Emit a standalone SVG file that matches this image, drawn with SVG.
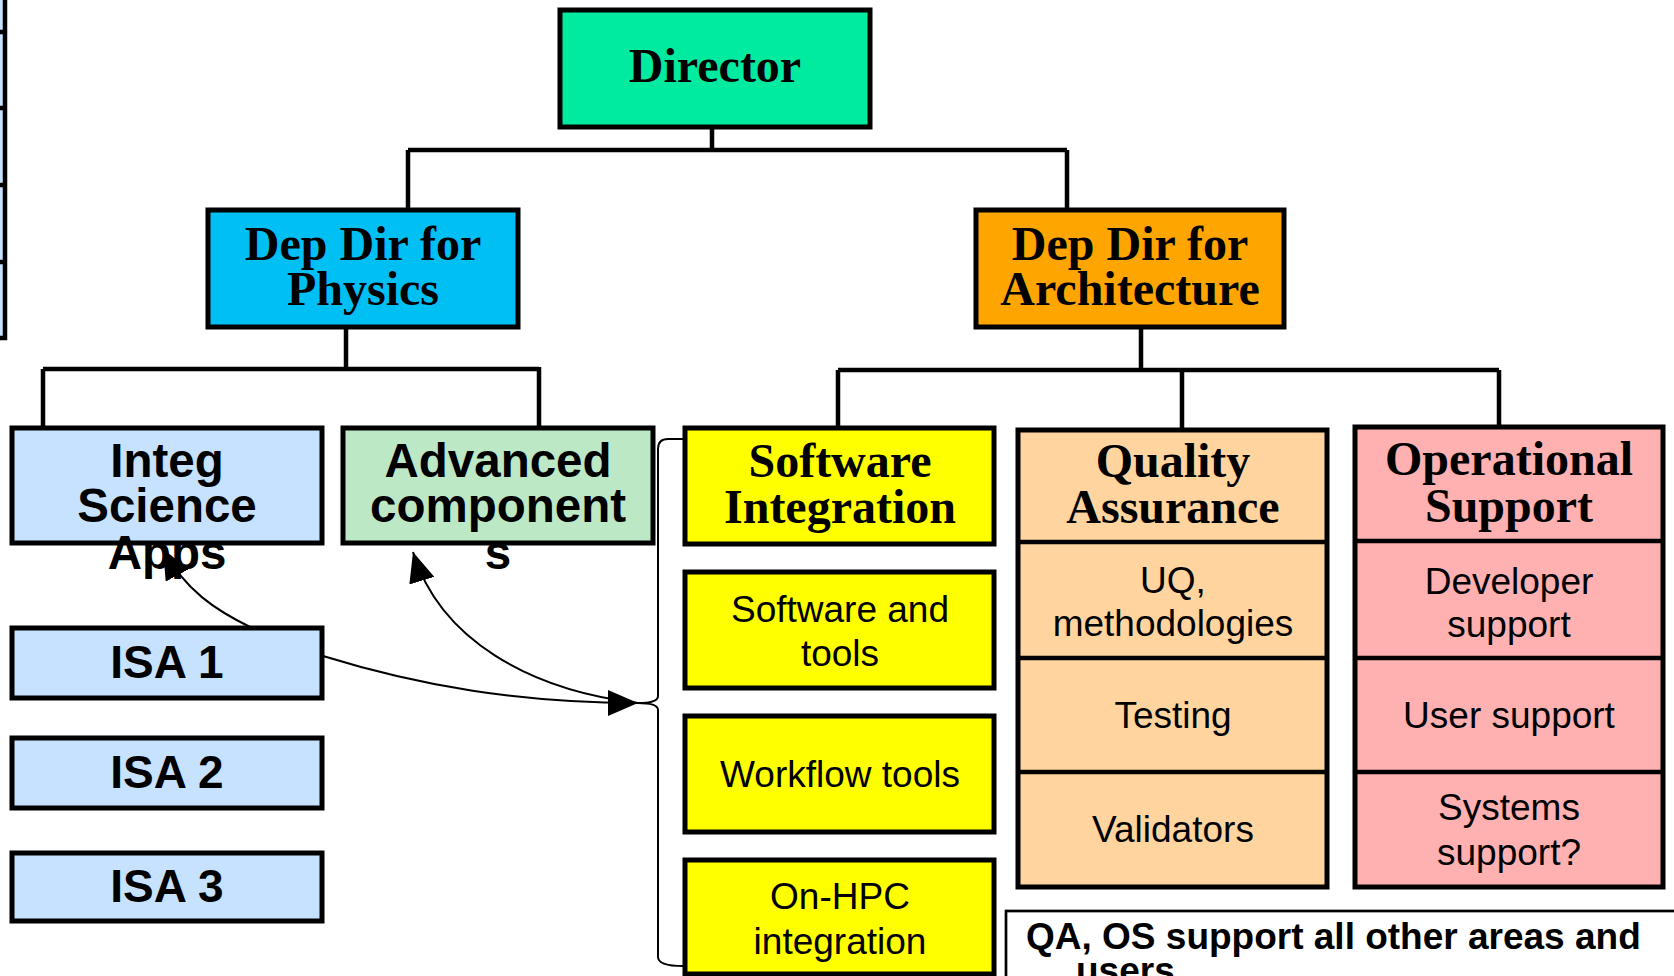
<svg xmlns="http://www.w3.org/2000/svg" width="1674" height="976" viewBox="0 0 1674 976">
<style>
.box{stroke:#000;stroke-width:5}
.hdr{font-family:"Liberation Serif","Times New Roman",serif;font-weight:bold;font-size:48px;text-anchor:middle;fill:#000}
.sb{font-family:"Liberation Sans",Arial,sans-serif;font-weight:bold;font-size:46px;text-anchor:middle;fill:#000}
.sbl{font-family:"Liberation Sans",Arial,sans-serif;font-weight:bold;font-size:47.5px;text-anchor:middle;fill:#000}
.sr{font-family:"Liberation Sans",Arial,sans-serif;font-size:37px;text-anchor:middle;fill:#000}
.note{font-family:"Liberation Sans",Arial,sans-serif;font-weight:bold;font-size:37px;fill:#000}
.conn{stroke:#000;stroke-width:4.5;fill:none}
.arr{stroke:#000;stroke-width:2;fill:none}
.thin{stroke:#000;stroke-width:2;fill:none}
</style>
<defs>
<marker id="ah" markerUnits="userSpaceOnUse" markerWidth="30" markerHeight="26" viewBox="0 0 30 26" refX="30" refY="13" orient="auto">
<path d="M0,0 L30,13 L0,26 z" fill="#000"/>
</marker>
</defs>
<rect width="1674" height="976" fill="#fff"/>

<g id="edge-table">
<rect x="-10" y="-10" width="15" height="348" fill="#C6E2FF" stroke="#000" stroke-width="4.5"/>
<path class="conn" stroke-width="3" d="M0,32H6M0,108H6M0,185H6M0,262H6"/>
</g>

<g id="connectors">
<path class="conn" d="M712,127V150M408,150H1067M408,150V210M1067,150V210"/>
<path class="conn" d="M346,327V369M43,369H539M43,369V428M539,367V428"/>
<path class="conn" d="M1141,327V370M838,370H1499M838,370V428M1182,370V430M1499,370V427"/>
<path class="thin" d="M683,439H668Q658,439 658,449V696Q658,703 638,703Q658,703 658,710V957Q658,966 683,966"/>
<path class="arr" d="M323,656C420,686 520,703 638,703" marker-end="url(#ah)"/>
<path class="arr" d="M638,703C530,690 440,640 413,552" marker-end="url(#ah)"/>
<path class="arr" d="M252,628C215,610 185,590 163,549" marker-end="url(#ah)"/>
</g>

<g id="director">
<rect class="box" x="560" y="10" width="310" height="117" fill="#00EBA0"/>
<text class="hdr" x="715" y="82">Director</text>
</g>

<g id="dep-physics">
<rect class="box" x="208" y="210" width="310" height="117" fill="#00BFF3"/>
<text class="hdr" x="363" y="260">Dep Dir for</text>
<text class="hdr" x="363" y="305">Physics</text>
</g>

<g id="dep-architecture">
<rect class="box" x="976" y="210" width="308" height="117" fill="#FFA500"/>
<text class="hdr" x="1130" y="260">Dep Dir for</text>
<text class="hdr" x="1130" y="305">Architecture</text>
</g>

<g id="integ">
<rect class="box" x="12" y="428" width="310" height="115" fill="#C6E2FF"/>
<text class="sbl" x="167" y="477">Integ</text>
<text class="sbl" x="167" y="522">Science</text>
<text class="sbl" x="167" y="569">Apps</text>
</g>

<g id="advanced">
<rect class="box" x="343" y="428" width="310" height="115" fill="#BCE8C6"/>
<text class="sbl" x="498" y="477">Advanced</text>
<text class="sbl" x="498" y="522">component</text>
<text class="sbl" x="498" y="569">s</text>
</g>

<g id="isa1">
<rect class="box" x="12" y="628" width="310" height="70" fill="#C6E2FF"/>
<text class="sb" x="167" y="678">ISA 1</text>
</g>
<g id="isa2">
<rect class="box" x="12" y="738" width="310" height="70" fill="#C6E2FF"/>
<text class="sb" x="167" y="788">ISA 2</text>
</g>
<g id="isa3">
<rect class="box" x="12" y="853" width="310" height="68" fill="#C6E2FF"/>
<text class="sb" x="167" y="902">ISA 3</text>
</g>

<g id="software-integration">
<rect class="box" x="685" y="428" width="309" height="116" fill="#FFFF00"/>
<text class="hdr" x="840" y="477">Software</text>
<text class="hdr" x="840" y="523">Integration</text>
</g>
<g id="software-tools">
<rect class="box" x="685" y="572" width="309" height="116" fill="#FFFF00"/>
<text class="sr" x="840" y="622">Software and</text>
<text class="sr" x="840" y="666">tools</text>
</g>
<g id="workflow-tools">
<rect class="box" x="685" y="716" width="309" height="116" fill="#FFFF00"/>
<text class="sr" x="840" y="787">Workflow tools</text>
</g>
<g id="on-hpc">
<rect class="box" x="685" y="860" width="309" height="114" fill="#FFFF00"/>
<text class="sr" x="840" y="909">On-HPC</text>
<text class="sr" x="840" y="954">integration</text>
</g>

<g id="quality-assurance">
<rect class="box" x="1018" y="430" width="309" height="457" fill="#FFD49E"/>
<path class="conn" stroke-width="5" d="M1018,542H1327M1018,658H1327M1018,772H1327"/>
<text class="hdr" x="1173" y="477">Quality</text>
<text class="hdr" x="1173" y="523">Assurance</text>
<text class="sr" x="1173" y="593">UQ,</text>
<text class="sr" x="1173" y="636">methodologies</text>
<text class="sr" x="1173" y="728">Testing</text>
<text class="sr" x="1173" y="842">Validators</text>
</g>

<g id="operational-support">
<rect class="box" x="1355" y="427" width="308" height="460" fill="#FFB0B0"/>
<path class="conn" stroke-width="5" d="M1355,541H1663M1355,658H1663M1355,772H1663"/>
<text class="hdr" x="1509" y="475">Operational</text>
<text class="hdr" x="1509" y="522">Support</text>
<text class="sr" x="1509" y="594">Developer</text>
<text class="sr" x="1509" y="637">support</text>
<text class="sr" x="1509" y="728">User support</text>
<text class="sr" x="1509" y="820">Systems</text>
<text class="sr" x="1509" y="865">support?</text>
</g>

<g id="note">
<rect x="1006" y="911" width="720" height="120" fill="#fff" stroke="#000" stroke-width="2.7"/>
<text class="note" x="1026" y="949">QA, OS support all other areas and</text>
<text class="note" x="1076" y="983">users</text>
</g>
</svg>
